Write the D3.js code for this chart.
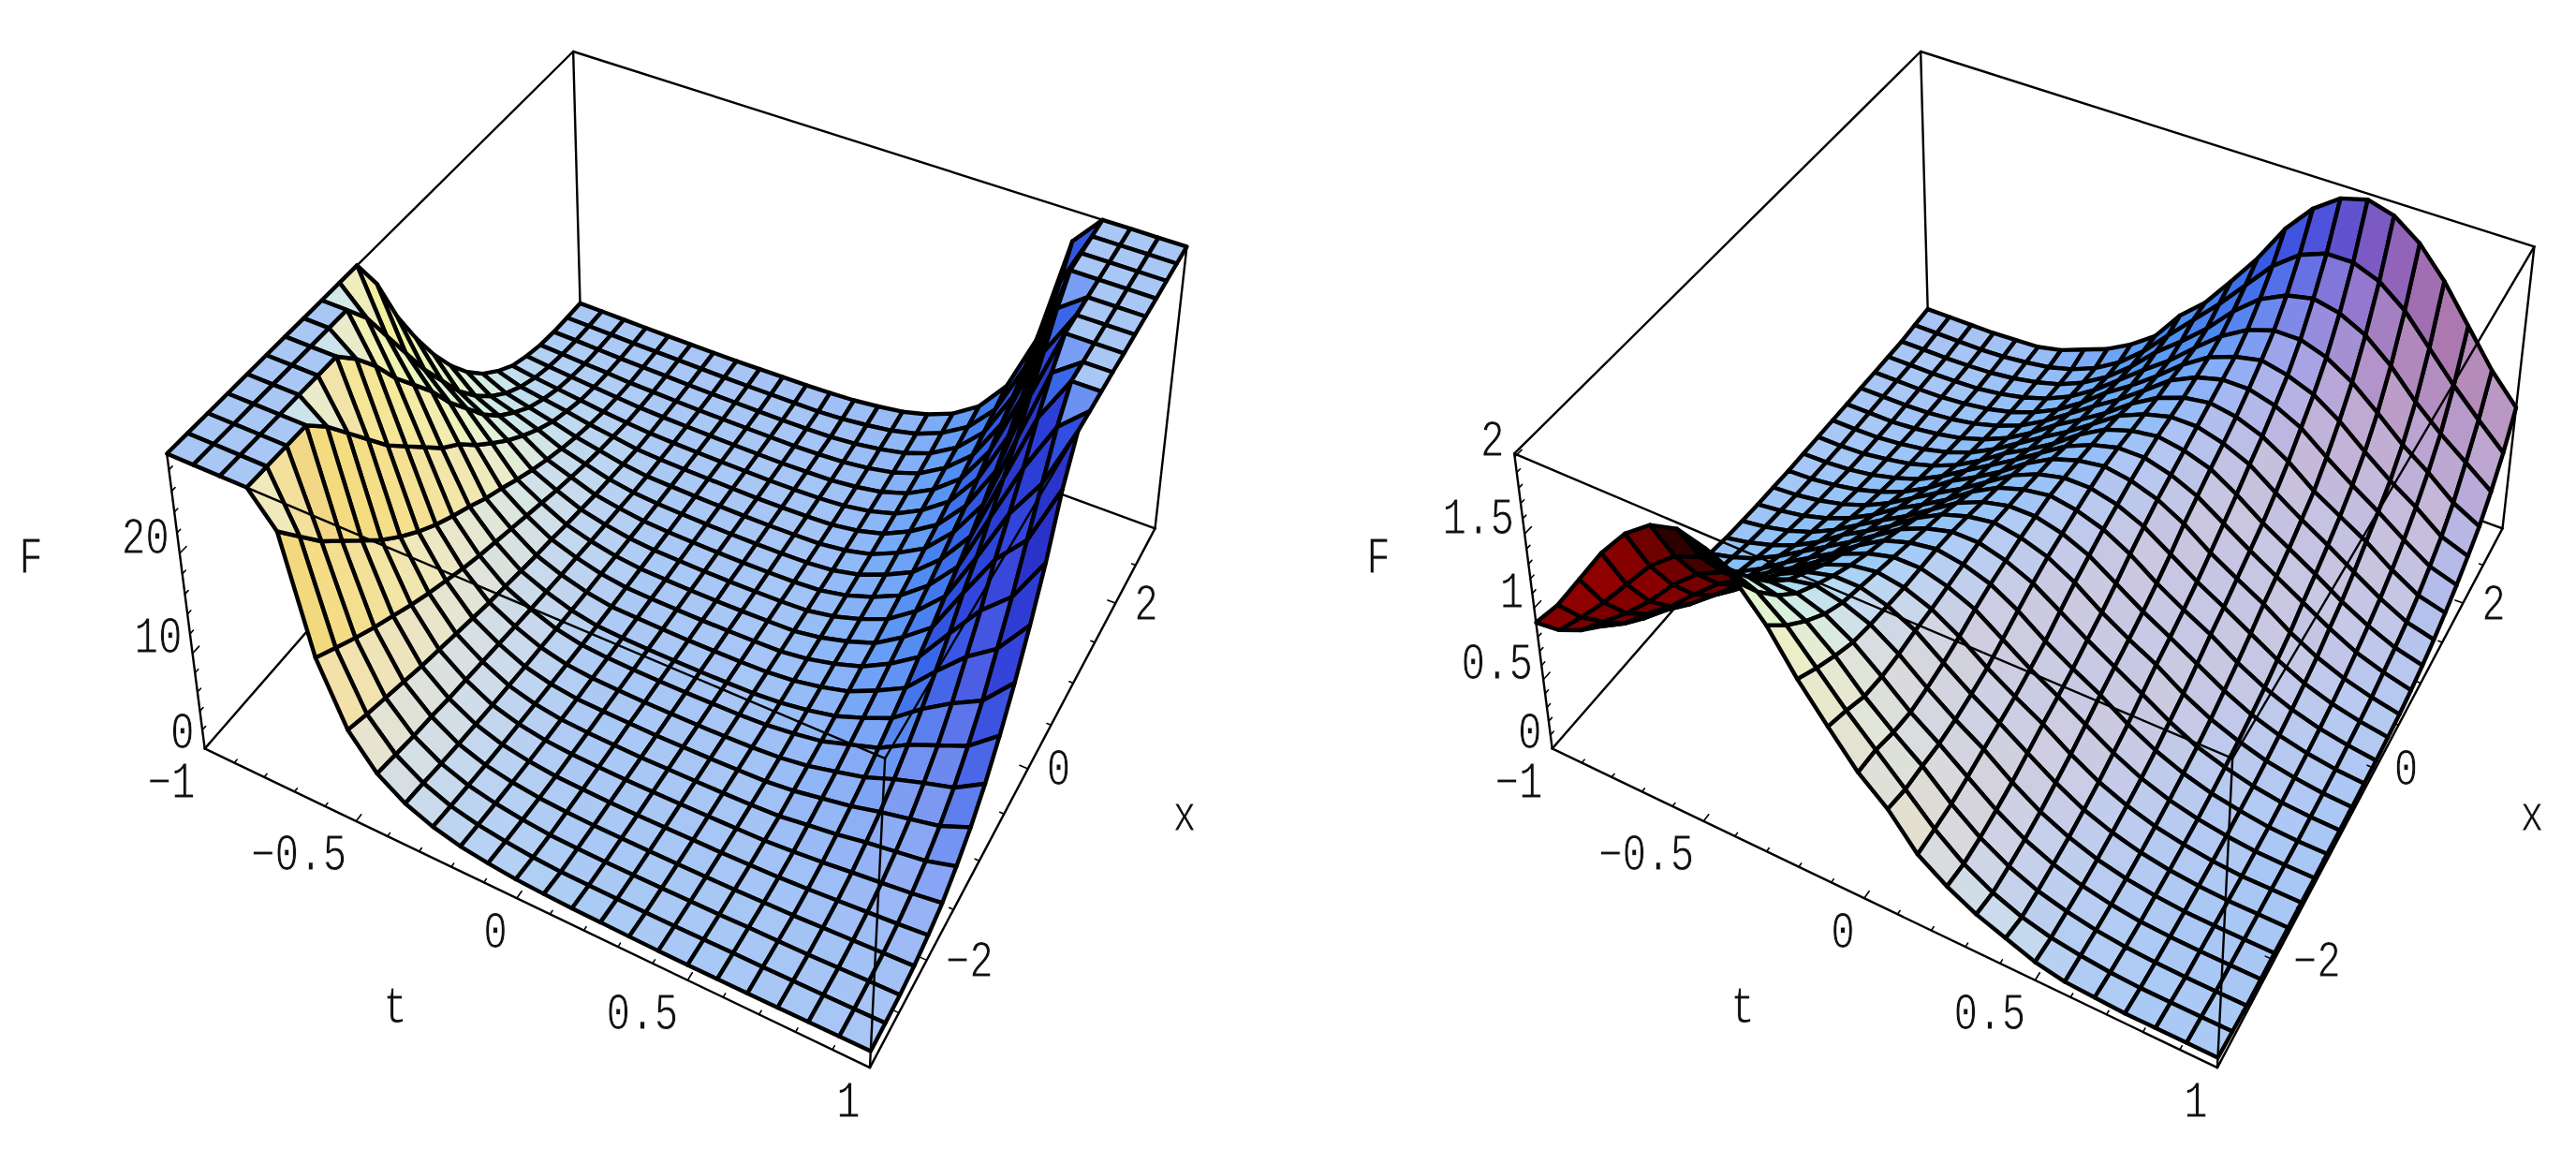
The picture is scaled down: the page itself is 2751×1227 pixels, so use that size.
<!DOCTYPE html>
<html><head><meta charset="utf-8">
<style>html,body{margin:0;padding:0;background:#fff}svg{display:block}text{font-family:"Liberation Mono",monospace;fill:#111;stroke:#fff;stroke-width:.9px;paint-order:fill}</style>
<script src="https://cdn.jsdelivr.net/npm/d3@7/dist/d3.min.js"></script>
</head><body><script>
// F(t,x): rows run along t (-1..1), columns along x (-3..3)
const leftRows=[
[60,58,55,52,49,46,43,40,37,33,30.5,26,21,17,13.5,10.5,8,6,4.5,3.3,2.6,2.1,1.85,1.75,1.7],
[50,48,45,42,40,38,35,33,30.5,27,23.5,20,16.5,13.5,10.5,8.2,6.3,4.8,3.7,2.9,2.35,2,1.8,1.7,1.68],
[45,43,41,38,36,33,30.5,27.5,25,22,19.5,17,14,11.5,9,7,5.5,4.2,3.3,2.6,2.15,1.85,1.7,1.65,1.65],
[38,35,33,30.5,27.5,25,22.5,20,18,16,14,12.5,10.5,8.8,7.2,5.8,4.6,3.6,2.9,2.3,1.95,1.75,1.62,1.6,1.62],
[26.5,24,21.5,19.5,17.5,15.5,13.8,12.3,11,9.9,8.9,7.8,6.9,5.9,5,4.2,3.5,2.9,2.4,2,1.75,1.6,1.58,1.58,1.6],
[15.5,14.3,13.1,12,11,10,9.1,8.3,7.5,6.8,6.2,5.6,5,4.4,3.8,3.3,2.8,2.4,2.05,1.75,1.6,1.55,1.55,1.57,1.6],
[9.5,8.8,8.2,7.6,7,6.5,6,5.5,5,4.6,4.2,3.8,3.5,3.1,2.75,2.4,2.15,1.9,1.66,1.56,1.51,1.48,1.49,1.54,1.6],
[6.3,5.9,5.5,5.2,4.8,4.5,4.2,3.9,3.6,3.3,3.05,2.8,2.6,2.35,2.15,1.95,1.75,1.6,1.54,1.49,1.46,1.44,1.46,1.52,1.6],
[4.5,4.2,3.85,3.55,3.3,3.05,2.85,2.65,2.5,2.32,2.18,2.05,1.93,1.82,1.72,1.62,1.56,1.52,1.48,1.45,1.43,1.42,1.45,1.52,1.65],
[3.4,3.1,2.85,2.6,2.4,2.25,2.1,1.97,1.85,1.75,1.66,1.59,1.56,1.54,1.51,1.49,1.47,1.46,1.44,1.42,1.41,1.41,1.45,1.53,1.7],
[2.7,2.45,2.25,2.05,1.9,1.78,1.68,1.6,1.57,1.54,1.52,1.5,1.48,1.46,1.45,1.44,1.42,1.42,1.41,1.41,1.4,1.42,1.46,1.55,1.75],
[2.3,2.05,1.85,1.7,1.59,1.55,1.52,1.5,1.48,1.46,1.45,1.44,1.43,1.42,1.41,1.41,1.4,1.4,1.4,1.4,1.41,1.43,1.49,1.58,1.85],
[2,1.75,1.58,1.53,1.49,1.46,1.44,1.43,1.42,1.41,1.41,1.41,1.41,1.41,1.41,1.41,1.42,1.43,1.44,1.46,1.49,1.53,1.58,1.75,2],
[1.85,1.58,1.49,1.43,1.41,1.4,1.4,1.4,1.4,1.41,1.41,1.42,1.43,1.44,1.45,1.46,1.48,1.5,1.52,1.55,1.59,1.7,1.85,2.05,2.3],
[1.75,1.55,1.46,1.42,1.4,1.41,1.41,1.42,1.42,1.44,1.45,1.46,1.48,1.5,1.52,1.54,1.57,1.6,1.68,1.78,1.9,2.05,2.25,2.45,2.7],
[1.7,1.53,1.45,1.41,1.41,1.42,1.44,1.46,1.47,1.49,1.51,1.54,1.56,1.59,1.66,1.75,1.85,1.97,2.1,2.25,2.4,2.6,2.85,3.1,3.4],
[1.65,1.52,1.45,1.42,1.43,1.45,1.48,1.52,1.56,1.62,1.72,1.82,1.93,2.05,2.18,2.32,2.5,2.65,2.85,3.05,3.3,3.55,3.85,4.2,4.5],
[1.6,1.52,1.46,1.44,1.46,1.49,1.54,1.6,1.75,1.95,2.15,2.35,2.6,2.8,3.05,3.3,3.6,3.9,4.2,4.5,4.8,5.2,5.5,5.9,6.3],
[1.6,1.54,1.49,1.48,1.51,1.56,1.66,1.9,2.15,2.4,2.75,3.1,3.5,3.8,4.2,4.6,5,5.5,6,6.5,7,7.6,8.2,8.8,9.5],
[1.6,1.57,1.55,1.55,1.6,1.75,2.05,2.4,2.8,3.3,3.8,4.4,5,5.6,6.2,6.8,7.5,8.3,9.1,10,11,12,13.1,14.3,15.5],
[1.6,1.58,1.58,1.6,1.75,2,2.4,2.9,3.5,4.2,5,5.9,6.9,7.8,8.9,9.9,11,12.3,13.8,15.5,17.5,19.5,21.5,24,26.5],
[1.62,1.6,1.62,1.75,1.95,2.3,2.9,3.6,4.6,5.8,7.2,8.8,10.5,12.5,14,16,18,20,22.5,25,27.5,30.5,33,35,38],
[1.65,1.65,1.7,1.85,2.15,2.6,3.3,4.2,5.5,7,9,11.5,14,17,19.5,22,25,27.5,30.5,33,36,38,41,43,45],
[1.68,1.7,1.8,2,2.35,2.9,3.7,4.8,6.3,8.2,10.5,13.5,16.5,20,23.5,27,30.5,33,35,38,40,42,45,48,50],
[1.7,1.75,1.85,2.1,2.6,3.3,4.5,6,8,10.5,13.5,17,21,26,30.5,33,37,40,43,46,49,52,55,58,60]];
const rightRows=[
[.9,.7,.55,.43,.35,.28,.22,.17,.13,.1,.08,.07,.06,.055,.05,.05,.05,.05,.05,.05,.05,.05,.05,.06,.07],
[1.1,.87,.69,.53,.42,.34,.27,.22,.18,.15,.12,.1,.085,.07,.06,.055,.05,.05,.05,.05,.05,.05,.05,.06,.07],
[1.35,1.05,.83,.68,.56,.46,.38,.315,.26,.215,.175,.145,.12,.1,.085,.07,.06,.055,.05,.05,.05,.05,.05,.06,.07],
[1.6,1.25,.99,.81,.68,.59,.51,.43,.36,.31,.25,.21,.175,.145,.12,.1,.088,.075,.065,.06,.055,.055,.055,.06,.07],
[1.8,1.45,1.18,.97,.82,.71,.62,.55,.48,.42,.35,.3,.25,.21,.177,.148,.124,.105,.092,.08,.072,.065,.066,.07,.08],
[1.93,1.59,1.33,1.12,.97,.84,.73,.66,.59,.53,.475,.41,.35,.3,.25,.21,.18,.152,.13,.113,.1,.091,.088,.09,.09],
[1.98,1.66,1.42,1.23,1.09,.98,.87,.78,.7,.64,.58,.52,.47,.41,.35,.305,.257,.22,.19,.165,.144,.13,.124,.118,.13],
[1.93,1.66,1.46,1.29,1.16,1.07,.98,.91,.83,.76,.69,.625,.57,.52,.475,.42,.36,.315,.27,.237,.21,.19,.175,.168,.2],
[1.8,1.59,1.42,1.29,1.2,1.12,1.05,.99,.94,.88,.82,.745,.68,.625,.575,.53,.484,.43,.38,.34,.3,.273,.255,.244,.27],
[1.6,1.45,1.33,1.23,1.16,1.12,1.08,1.04,1,.96,.92,.865,.81,.745,.687,.64,.587,.546,.508,.463,.42,.39,.365,.353,.37],
[1.33,1.25,1.18,1.12,1.09,1.07,1.05,1.04,1.03,1.01,.98,.945,.91,.865,.818,.76,.7,.656,.616,.588,.564,.533,.511,.504,.5],
[1.1,1.05,.99,.97,.97,.98,.98,.99,1,1.01,1.01,.99,.97,.945,.92,.88,.834,.782,.734,.706,.684,.676,.686,.689,.72],
[.88,.87,.83,.81,.82,.84,.87,.91,.94,.96,.98,.99,1,.99,.98,.96,.94,.91,.87,.84,.82,.81,.83,.87,.88],
[.72,.689,.686,.676,.684,.706,.734,.782,.834,.88,.92,.945,.97,.99,1.01,1.01,1,.99,.98,.98,.97,.97,.99,1.05,1.1],
[.5,.504,.511,.533,.564,.588,.616,.656,.7,.76,.818,.865,.91,.945,.98,1.01,1.03,1.04,1.05,1.07,1.09,1.12,1.18,1.25,1.33],
[.37,.353,.365,.39,.42,.463,.508,.546,.587,.64,.687,.745,.81,.865,.92,.96,1,1.04,1.08,1.12,1.16,1.23,1.33,1.45,1.6],
[.27,.244,.255,.273,.3,.34,.38,.43,.484,.53,.575,.625,.68,.745,.82,.88,.94,.99,1.05,1.12,1.2,1.29,1.42,1.59,1.8],
[.2,.168,.175,.19,.21,.237,.27,.315,.36,.42,.475,.52,.57,.625,.69,.76,.83,.91,.98,1.07,1.16,1.29,1.46,1.66,1.93],
[.13,.118,.124,.13,.144,.165,.19,.22,.257,.305,.35,.41,.47,.52,.58,.64,.7,.78,.87,.98,1.09,1.23,1.42,1.66,1.98],
[.09,.09,.088,.091,.1,.113,.13,.152,.18,.21,.25,.3,.35,.41,.475,.53,.59,.66,.73,.84,.97,1.12,1.33,1.59,1.93],
[.08,.07,.066,.065,.072,.08,.092,.105,.124,.148,.177,.21,.25,.3,.35,.42,.48,.55,.62,.71,.82,.97,1.18,1.45,1.8],
[.07,.06,.055,.055,.055,.06,.065,.075,.088,.1,.12,.145,.175,.21,.25,.31,.36,.43,.51,.59,.68,.81,.99,1.25,1.6],
[.07,.06,.05,.05,.05,.05,.05,.055,.06,.07,.085,.1,.12,.145,.175,.215,.26,.315,.38,.46,.56,.68,.83,1.05,1.35],
[.07,.06,.05,.05,.05,.05,.05,.05,.05,.055,.06,.07,.085,.1,.12,.15,.18,.22,.27,.34,.42,.53,.69,.87,1.1],
[.07,.06,.05,.05,.05,.05,.05,.05,.05,.05,.05,.055,.06,.07,.08,.1,.13,.17,.22,.28,.35,.43,.55,.7,.9]];
const tDomain=[-1,1], xDomain=[-3,3];
const tTickLabels=[-1,-0.5,0,0.5,1], xTickLabels=[-2,0,2];
const tMinor=d3.range(-10,11).map(d=>d/10), xMinor=d3.range(-6,7).map(d=>d/2);
const leftZTicks=[0,10,20], leftZMinor=d3.range(0,30,2);
const rightZTicks=[0,0.5,1,1.5,2], rightZMinor=d3.range(0,21).map(d=>d/10);
const leftZTop=29.5, rightZTop=2.02;

// box corners in page pixels, [tIndex,xIndex,zIndex] -> pixel (layout, not data)
const boxLeft=[[0,0,0,218,799],[1,0,0,929,1140],[1,1,0,1234,563],[0,1,0,620,341],
               [0,0,1,179,484],[1,0,1,945,811],[1,1,1,1267,264],[0,1,1,612,54]];
const chartDX=1439;

const W=2751,H=1227;
const svg=d3.select('body').append('svg').attr('width',W).attr('height',H).attr('viewBox',`0 0 ${W} ${H}`);

function fit(corners){
  const A=[],b=[];
  corners.forEach(([X,Y,Z,u,v])=>{
    A.push([X,Y,Z,1,0,0,0,0,-u*X,-u*Y,-u*Z]);b.push(u);
    A.push([0,0,0,0,X,Y,Z,1,-v*X,-v*Y,-v*Z]);b.push(v);
  });
  const n=11,M=d3.range(n).map(r=>d3.range(n+1).map(c=>{
    let s=0;A.forEach((row,k)=>{s+=row[r]*(c<n?row[c]:b[k]);});return s;}));
  for(let i=0;i<n;i++){
    let p=i;for(let r=i+1;r<n;r++)if(Math.abs(M[r][i])>Math.abs(M[p][i]))p=r;
    [M[i],M[p]]=[M[p],M[i]];
    for(let r=0;r<n;r++){if(r===i)continue;const f=M[r][i]/M[i][i];for(let c=i;c<=n;c++)M[r][c]-=f*M[i][c];}
  }
  const q=M.map((r,i)=>r[n]/r[i]);
  return (X,Y,Z)=>{const w=q[8]*X+q[9]*Y+q[10]*Z+1;
    return {x:(q[0]*X+q[1]*Y+q[2]*Z+q[3])/w,y:(q[4]*X+q[5]*Y+q[6]*Z+q[7])/w,w};};
}

// viewing basis and lights for the surface shading
const norm=v=>{const l=Math.hypot(...v);return v.map(d=>d/l);};
const cross=(a,b)=>[a[1]*b[2]-a[2]*b[1],a[2]*b[0]-a[0]*b[2],a[0]*b[1]-a[1]*b[0]];
const dot=(a,b)=>a[0]*b[0]+a[1]*b[1]+a[2]*b[2];
const V=norm([1.3,-2.4,2]),Rt=norm(cross([0,0,1],V)),Up=cross(V,Rt);
const frontLights=[[.8,.25,.35],[.646,.656,.103],[-.15,.8,.45]];
const backLights=[norm([1,0,1]),norm([1,1,1]),norm([0,1,1])];
const boxH=.4, lightH=.28, soft=.22;
const response=d3.scaleLinear([0,.1,.42,.53,.75,.9,.98,1],[0,.35,.6,.64,.71,.82,.95,1]).clamp(true);
const toView=n=>[dot(n,Rt),dot(n,Up),dot(n,V)];
function shade(nTrue,nLight){
  const vt=toView(nTrue);
  let c;
  if(vt[2]<0){const f=vt.map(d=>-d);c=backLights.map(l=>response(Math.max(0,dot(f,l))));}
  else{const vn=toView(nLight);
    c=frontLights.map(l=>{const d=dot(vn,l);return Math.sqrt(.5*(d+Math.hypot(d,soft)));});}
  const [r,g,b]=c.map(v=>Math.round(255*Math.min(1,v)));
  return `rgb(${r},${g},${b})`;
}

function chart(dx,rows,zTop,zTicks,zMinor){
  const P=fit(boxLeft.map(([a,b,c,u,v])=>[a,b,c,u+dx,v]));
  const tS=d3.scaleLinear(tDomain,[0,1]),xS=d3.scaleLinear(xDomain,[0,1]),
        zS=d3.scaleLinear([0,zTop],[0,1]).clamp(true);
  const g=svg.append('g');
  const seg=(a,b,w)=>g.append('line').attr('x1',P(...a).x).attr('y1',P(...a).y)
    .attr('x2',P(...b).x).attr('y2',P(...b).y).attr('stroke','#000').attr('stroke-width',w).attr('stroke-linecap','round');
  // back edges of the box
  [[[0,0,1],[0,1,1]],[[0,1,1],[1,1,1]],[[0,1,0],[0,1,1]],[[0,0,0],[0,1,0]],[[0,1,0],[1,1,0]],[[1,1,0],[1,1,1]]]
    .forEach(([a,b])=>seg(a,b,2.4));
  // surface cells
  const nI=rows.length-1,nJ=rows[0].length-1,tI=d3.scaleLinear([0,nI],tDomain),xI=d3.scaleLinear([0,nJ],xDomain);
  const cell3=(i,j)=>[tS(tI(i)),xS(xI(j)),zS(rows[i][j])];
  const normalAt=(c,h)=>{
    const b=p=>[p[0],p[1],p[2]*h];
    let n=norm(cross(d3.range(3).map(k=>b(c[2])[k]-b(c[0])[k]),d3.range(3).map(k=>b(c[3])[k]-b(c[1])[k])));
    return n[2]<0?n.map(d=>-d):n;
  };
  const cells=[];
  for(let i=0;i<nI;i++)for(let j=0;j<nJ;j++){
    const c=[cell3(i,j),cell3(i+1,j),cell3(i+1,j+1),cell3(i,j+1)];
    const pts=c.map(p=>P(...p));
    cells.push({pts,depth:d3.mean(pts,p=>p.w),fill:shade(normalAt(c,boxH),normalAt(c,lightH))});
  }
  cells.sort((a,b)=>b.depth-a.depth);
  g.append('g').selectAll('polygon').data(cells).join('polygon')
    .attr('points',d=>d.pts.map(p=>`${p.x.toFixed(1)},${p.y.toFixed(1)}`).join(' '))
    .attr('fill',d=>d.fill).attr('stroke','#000').attr('stroke-width',4.4).attr('stroke-linejoin','round');
  // front edges of the box
  [[[0,0,1],[1,0,1]],[[1,0,1],[1,1,1]],[[1,0,0],[1,0,1]],[[0,0,0],[1,0,0]],[[1,0,0],[1,1,0]],[[0,0,0],[0,0,1]]]
    .forEach(([a,b])=>seg(a,b,2.4));
  // ticks
  tMinor.forEach(v=>{const M=Math.abs(v*2%1)<1e-6;seg([tS(v),0,0],[tS(v),M?.012:.006,0],1.6);});
  xMinor.forEach(v=>{const M=Math.abs(v%2)<1e-6;seg([1,xS(v),0],[M?.988:.994,xS(v),0],1.6);});
  zMinor.forEach(v=>{seg([0,0,zS(v)],[0,zTicks.includes(v)?.014:.007,zS(v)],1.6);});
  // labels
  const label=(txt,x,y,anchor)=>g.append('text').attr('transform',`translate(${x},${y}) scale(.82,1.06)`)
    .attr('text-anchor',anchor).attr('dominant-baseline','central').attr('font-size',52).text(txt);
  const fmt=v=>String(v).replace('-','\u2212');
  zTicks.forEach(v=>{const p=P(0,0,zS(v));label(fmt(v),p.x-11,p.y-15,'end');});
  tTickLabels.forEach(v=>{const p=P(tS(v),0,0);label(fmt(v),p.x-10,p.y+38,'end');});
  xTickLabels.forEach(v=>{const p=P(1,xS(v),0);label(fmt(v),p.x+20,p.y+3,'start');});
  label('F',33+dx,597,'middle');label('t',422+dx,1077,'middle');label('x',1265+dx,872,'middle');
}
chart(0,leftRows,leftZTop,leftZTicks,leftZMinor);
chart(chartDX,rightRows,rightZTop,rightZTicks,rightZMinor);
</script></body></html>
